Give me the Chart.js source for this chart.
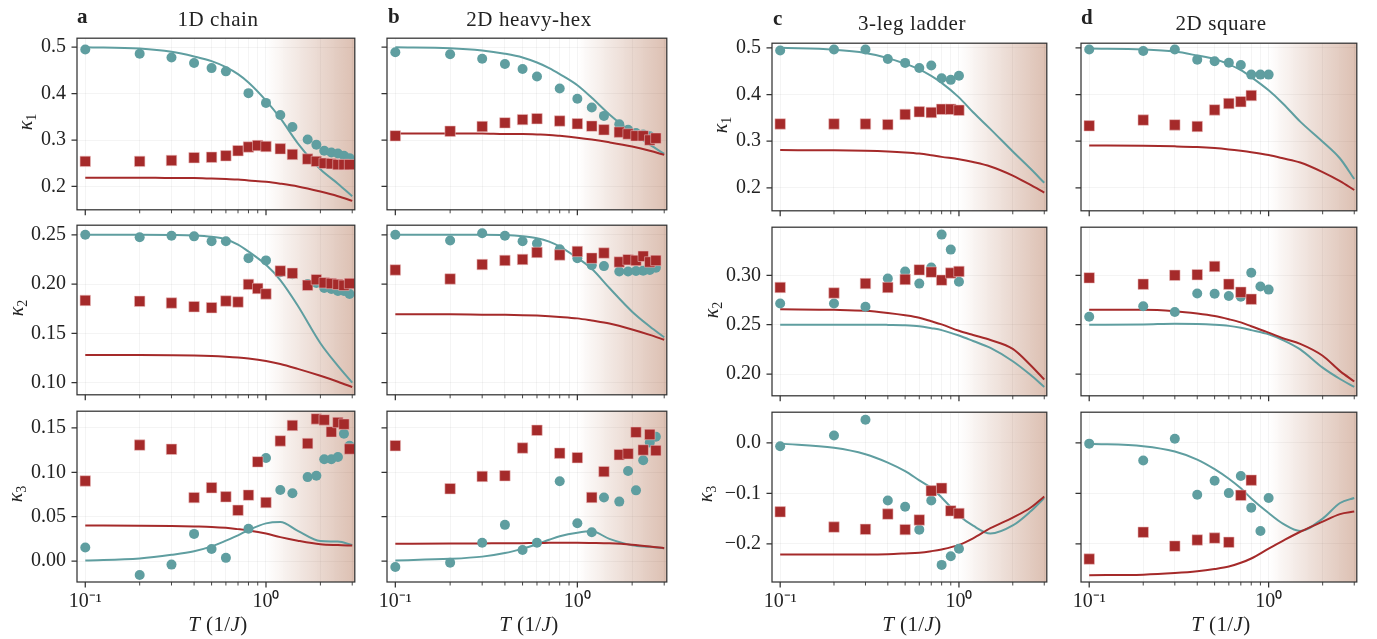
<!DOCTYPE html>
<html lang="en">
<head>
<meta charset="UTF-8">
<title>Cumulants vs temperature</title>
<style>
  body { margin: 0; background: #fff; font-family: "Liberation Serif", serif; color: #222; }
  #fig { position: relative; width: 1377px; height: 639px; overflow: hidden; }
  #fig canvas { position: absolute; }
  .lbl { position: absolute; font-size: 20px; line-height: 20px; white-space: nowrap; }
  .title { transform: translateX(-50%); font-size: 21px; letter-spacing: 0.6px; }
  .letter { font-weight: bold; font-size: 21px; }
  .ylab { transform: translate(-50%, -50%) rotate(-90deg); font-style: italic; }
  .ylab sub { font-style: normal; font-size: 14px; vertical-align: -4px; line-height: 0; }
  .xlab { transform: translate(-50%, -50%); font-size: 21px; letter-spacing: 0.4px; }
</style>
</head>
<body>
<div id="fig">
  <div class="lbl letter" style="left:77px; top:6px">a</div>
  <div class="lbl title" style="left:218px; top:9px">1D chain</div>
  <div class="lbl letter" style="left:388px; top:6px">b</div>
  <div class="lbl title" style="left:529px; top:9px">2D heavy-hex</div>
  <div class="lbl letter" style="left:773px; top:8px">c</div>
  <div class="lbl title" style="left:912px; top:13px">3-leg ladder</div>
  <div class="lbl letter" style="left:1081px; top:7px">d</div>
  <div class="lbl title" style="left:1221px; top:13px">2D square</div>

  <div class="lbl ylab" style="left:25px; top:122px">κ<sub>1</sub></div>
  <div class="lbl ylab" style="left:16px; top:308px">κ<sub>2</sub></div>
  <div class="lbl ylab" style="left:15px; top:494px">κ<sub>3</sub></div>
  <div class="lbl ylab" style="left:720px; top:125px">κ<sub>1</sub></div>
  <div class="lbl ylab" style="left:711px; top:310px">κ<sub>2</sub></div>
  <div class="lbl ylab" style="left:705px; top:494px">κ<sub>3</sub></div>

  <div class="lbl xlab" style="left:218px; top:624px"><i>T</i> (1/<i>J</i>)</div>
  <div class="lbl xlab" style="left:529px; top:624px"><i>T</i> (1/<i>J</i>)</div>
  <div class="lbl xlab" style="left:912px; top:624px"><i>T</i> (1/<i>J</i>)</div>
  <div class="lbl xlab" style="left:1221px; top:624px"><i>T</i> (1/<i>J</i>)</div>
</div>

<script src="https://cdn.jsdelivr.net/npm/chart.js"></script>
<script>
const TEAL = '#5f9ea0';
const BROWN = '#a52a2a';
const FONT = '"Liberation Serif", serif';

// temperatures of the measured points
const T_A = [0.1, 0.2, 0.3, 0.4, 0.5, 0.6, 0.7, 0.8, 0.9, 1.0, 1.2, 1.4, 1.7, 1.9, 2.1, 2.3, 2.5, 2.7, 2.9];
const T_A_TEAL = [0.1, 0.2, 0.3, 0.4, 0.5, 0.6, 0.8, 1.0, 1.2, 1.4, 1.7, 1.9, 2.1, 2.3, 2.5, 2.7, 2.9];
const T_B = [0.1, 0.2, 0.3, 0.4, 0.5, 0.6, 0.8, 1.0, 1.2, 1.4, 1.7, 1.9, 2.1, 2.3, 2.5, 2.7];
const T_C = [0.1, 0.2, 0.3, 0.4, 0.5, 0.6, 0.7, 0.8, 0.9, 1.0];
const T_D_RED = [0.1, 0.2, 0.3, 0.4, 0.5, 0.6, 0.7, 0.8];
// temperatures of the theory curves
const T_FIT = [0.1, 0.2, 0.3, 0.4, 0.5, 0.6, 0.7, 0.8, 1.0, 1.2, 1.5, 2.0, 2.5, 3.0];

const X_TICKS = [0.1, 0.2, 0.3, 0.4, 0.5, 0.6, 0.7, 0.8, 0.9, 1, 2, 3];

// a: 1D chain
const aK1Teal = [0.495, 0.486, 0.478, 0.466, 0.455, 0.448, 0.401, 0.380, 0.354, 0.328, 0.301, 0.290, 0.277, 0.273, 0.271, 0.266, 0.261];
const aK1Red = [0.254, 0.254, 0.256, 0.262, 0.263, 0.266, 0.277, 0.285, 0.288, 0.286, 0.281, 0.269, 0.259, 0.254, 0.250, 0.249, 0.247, 0.247, 0.247];
const aK1TealFit = [0.500, 0.497, 0.490, 0.480, 0.470, 0.457, 0.442, 0.424, 0.385, 0.347, 0.293, 0.237, 0.206, 0.179];
const aK1RedFit = [0.219, 0.219, 0.218, 0.218, 0.217, 0.216, 0.215, 0.213, 0.210, 0.206, 0.200, 0.189, 0.179, 0.169];

const aK2Teal = [0.250, 0.2474, 0.249, 0.2484, 0.2435, 0.2435, 0.2263, 0.224, 0.212, 0.210, 0.200, 0.201, 0.196, 0.195, 0.193, 0.193, 0.190];
const aK2Red = [0.1834, 0.1825, 0.1808, 0.177, 0.176, 0.1828, 0.1818, 0.1997, 0.1955, 0.190, 0.2133, 0.211, 0.1987, 0.2045, 0.2013, 0.2006, 0.1997, 0.1987, 0.2006];
const aK2TealFit = [0.250, 0.250, 0.2498, 0.2493, 0.248, 0.2455, 0.240, 0.233, 0.2195, 0.204, 0.178, 0.140, 0.117, 0.100];
const aK2RedFit = [0.128, 0.128, 0.1278, 0.1275, 0.127, 0.1263, 0.1255, 0.1245, 0.122, 0.119, 0.114, 0.107, 0.101, 0.0955];

const aK3Teal = [0.0153, -0.0157, -0.004, 0.0306, 0.0135, 0.0036, 0.0364, 0.1161, 0.0801, 0.0764, 0.0946, 0.0961, 0.1147, 0.1147, 0.1172, 0.1434, 0.130];
const aK3Red = [0.0903, 0.1307, 0.126, 0.0715, 0.0826, 0.0724, 0.0572, 0.0743, 0.1118, 0.0659, 0.1354, 0.1529, 0.1325, 0.1602, 0.1591, 0.1456, 0.1562, 0.1543, 0.1263];
const aK3TealFit = [0.0005, 0.003, 0.007, 0.011, 0.0165, 0.023, 0.029, 0.035, 0.0425, 0.044, 0.034, 0.0225, 0.022, 0.018];
const aK3RedFit = [0.040, 0.0398, 0.0395, 0.039, 0.0385, 0.0375, 0.036, 0.0345, 0.031, 0.027, 0.023, 0.019, 0.018, 0.0175];

// b: 2D heavy-hex
const bK1Teal = [0.489, 0.485, 0.475, 0.464, 0.453, 0.437, 0.411, 0.389, 0.370, 0.352, 0.334, 0.322, 0.315, 0.312, 0.308, 0.304];
const bK1Red = [0.309, 0.319, 0.329, 0.337, 0.344, 0.346, 0.341, 0.335, 0.330, 0.322, 0.317, 0.313, 0.309, 0.309, 0.300, 0.304];
const bK1TealFit = [0.500, 0.498, 0.493, 0.486, 0.478, 0.467, 0.455, 0.442, 0.418, 0.391, 0.355, 0.316, 0.290, 0.270];
const bK1RedFit = [0.314, 0.314, 0.314, 0.313, 0.313, 0.312, 0.311, 0.309, 0.305, 0.301, 0.295, 0.286, 0.277, 0.268];

const bK2Teal = [0.250, 0.2442, 0.2516, 0.249, 0.2435, 0.2412, 0.2354, 0.2263, 0.2192, 0.2182, 0.2127, 0.2127, 0.2133, 0.2136, 0.2143, 0.2166];
const bK2Red = [0.2143, 0.2052, 0.2198, 0.224, 0.225, 0.2321, 0.2295, 0.2331, 0.2263, 0.2315, 0.2224, 0.2247, 0.224, 0.2282, 0.2224, 0.224];
const bK2TealFit = [0.250, 0.250, 0.250, 0.2497, 0.2485, 0.2465, 0.243, 0.238, 0.2265, 0.2155, 0.196, 0.172, 0.157, 0.146];
const bK2RedFit = [0.1695, 0.1693, 0.169, 0.1688, 0.1685, 0.168, 0.1674, 0.1667, 0.1652, 0.163, 0.160, 0.154, 0.1485, 0.1435];

const bK3Teal = [-0.0066, -0.0018, 0.0207, 0.0408, 0.0124, 0.0207, 0.0899, 0.0426, 0.0324, 0.0717, 0.067, 0.1016, 0.0797, 0.1136, 0.1336, 0.1402];
const bK3Red = [0.130, 0.0815, 0.0954, 0.0961, 0.1274, 0.1474, 0.1216, 0.1165, 0.0717, 0.1008, 0.1198, 0.1209, 0.1452, 0.1252, 0.1427, 0.1245];
const bK3TealFit = [0.0007, 0.0025, 0.005, 0.009, 0.014, 0.019, 0.024, 0.028, 0.032, 0.0335, 0.025, 0.0178, 0.016, 0.0145];
const bK3RedFit = [0.0195, 0.0197, 0.0199, 0.020, 0.0202, 0.0204, 0.0205, 0.0206, 0.0206, 0.0204, 0.020, 0.0185, 0.0165, 0.0145];

// c: 3-leg ladder
const cK1Teal = [0.4945, 0.4966, 0.4966, 0.476, 0.4678, 0.4568, 0.4623, 0.435, 0.4315, 0.4404];
const cK1Red = [0.337, 0.337, 0.337, 0.3356, 0.3575, 0.363, 0.3616, 0.3685, 0.3685, 0.3664];
const cK1TealFit = [0.500, 0.496, 0.489, 0.478, 0.466, 0.454, 0.440, 0.425, 0.394, 0.362, 0.326, 0.278, 0.242, 0.211];
const cK1RedFit = [0.281, 0.2805, 0.2795, 0.278, 0.276, 0.2735, 0.270, 0.2665, 0.2615, 0.2555, 0.246, 0.2265, 0.207, 0.190];

const cK2Teal = [0.2714, 0.2714, 0.2682, 0.2968, 0.3039, 0.2916, 0.3078, 0.3412, 0.326, 0.2935];
const cK2Red = [0.2877, 0.2821, 0.2916, 0.2877, 0.2958, 0.3055, 0.3032, 0.2951, 0.3023, 0.3039];
const cK2TealFit = [0.250, 0.250, 0.250, 0.2498, 0.2495, 0.2485, 0.2465, 0.2445, 0.239, 0.2335, 0.2265, 0.213, 0.1995, 0.187];
const cK2RedFit = [0.2656, 0.265, 0.264, 0.2618, 0.2595, 0.257, 0.2535, 0.2503, 0.2438, 0.2395, 0.2345, 0.2255, 0.2095, 0.1945];

const cK3Teal = [-0.0064, 0.0147, 0.0462, -0.1141, -0.1263, -0.1718, -0.1141, -0.2417, -0.2244, -0.2096];
const cK3Red = [-0.1365, -0.1667, -0.1712, -0.141, -0.1718, -0.1526, -0.0949, -0.0897, -0.1346, -0.1397];
const cK3TealFit = [-0.0013, -0.0096, -0.0224, -0.039, -0.056, -0.074, -0.089, -0.108, -0.144, -0.164, -0.1795, -0.1635, -0.1365, -0.109];
const cK3RedFit = [-0.221, -0.221, -0.221, -0.2205, -0.219, -0.2175, -0.2145, -0.211, -0.202, -0.189, -0.169, -0.148, -0.129, -0.106];

// d: 2D square
const dK1Teal = [0.4966, 0.4932, 0.4966, 0.4748, 0.4714, 0.468, 0.4632, 0.4427, 0.4427, 0.4427];
const dK1Red = [0.333, 0.3453, 0.335, 0.3316, 0.3671, 0.3807, 0.3848, 0.3978];
const dK1TealFit = [0.4986, 0.4966, 0.492, 0.4836, 0.476, 0.4646, 0.4523, 0.4373, 0.409, 0.381, 0.342, 0.299, 0.263, 0.219];
const dK1RedFit = [0.2907, 0.2903, 0.289, 0.2875, 0.2853, 0.2825, 0.2795, 0.2765, 0.2703, 0.2635, 0.2545, 0.234, 0.2145, 0.1955];

const dK2Teal = [0.2581, 0.2687, 0.2629, 0.2816, 0.2813, 0.279, 0.2784, 0.3026, 0.2887, 0.2855];
const dK2Red = [0.2974, 0.291, 0.300, 0.3006, 0.309, 0.291, 0.2829, 0.2758];
const dK2TealFit = [0.250, 0.2502, 0.251, 0.2508, 0.250, 0.2488, 0.2468, 0.2445, 0.2403, 0.2345, 0.225, 0.2065, 0.195, 0.187];
const dK2RedFit = [0.2652, 0.2652, 0.2637, 0.2613, 0.2587, 0.2555, 0.2523, 0.2484, 0.242, 0.2363, 0.2305, 0.2185, 0.203, 0.1925];

const dK3Teal = [-0.0013, -0.0346, 0.0083, -0.1026, -0.075, -0.0994, -0.0654, -0.1282, -0.1744, -0.109];
const dK3Red = [-0.2301, -0.1769, -0.2045, -0.1923, -0.1885, -0.1968, -0.1038, -0.0737];
const dK3TealFit = [-0.0013, -0.0064, -0.017, -0.033, -0.052, -0.071, -0.090, -0.110, -0.139, -0.160, -0.1745, -0.150, -0.119, -0.109];
const dK3RedFit = [-0.262, -0.261, -0.258, -0.2545, -0.250, -0.245, -0.2375, -0.229, -0.2095, -0.194, -0.176, -0.156, -0.141, -0.136];

// y axis ticks per row
const K1_TICKS = [0.2, 0.3, 0.4, 0.5];
const K2_TICKS_AB = [0.10, 0.15, 0.20, 0.25];
const K2_TICKS_CD = [0.20, 0.25, 0.30];
const K3_TICKS_AB = [0.00, 0.05, 0.10, 0.15];
const K3_TICKS_CD = [-0.2, -0.1, 0.0];

const COLS = {
  a: { L: 77, W: 283, rows: [[33, 179], [220, 177], [406, 176]], labels: true },
  b: { L: 387, W: 285, rows: [[33, 179], [220, 177], [406, 176]], labels: false },
  c: { L: 772, W: 280, rows: [[38, 175], [222, 176], [407, 175]], labels: true },
  d: { L: 1081, W: 281, rows: [[38, 175], [222, 176], [407, 175]], labels: false }
};

const panels = [
  { col: 'a', row: 0, y: [0.1497, 0.5194], ticks: K1_TICKS, dec: 1, tTeal: T_A_TEAL, teal: aK1Teal, tRed: T_A, red: aK1Red, tealFit: aK1TealFit, redFit: aK1RedFit },
  { col: 'a', row: 1, y: [0.0877, 0.2597], ticks: K2_TICKS_AB, dec: 2, tTeal: T_A_TEAL, teal: aK2Teal, tRed: T_A, red: aK2Red, tealFit: aK2TealFit, redFit: aK2RedFit },
  { col: 'a', row: 2, y: [-0.0236, 0.1689], ticks: K3_TICKS_AB, dec: 2, tTeal: T_A_TEAL, teal: aK3Teal, tRed: T_A, red: aK3Red, tealFit: aK3TealFit, redFit: aK3RedFit },
  { col: 'b', row: 0, y: [0.1497, 0.5194], ticks: K1_TICKS, dec: 1, tTeal: T_B, teal: bK1Teal, tRed: T_B, red: bK1Red, tealFit: bK1TealFit, redFit: bK1RedFit },
  { col: 'b', row: 1, y: [0.0877, 0.2597], ticks: K2_TICKS_AB, dec: 2, tTeal: T_B, teal: bK2Teal, tRed: T_B, red: bK2Red, tealFit: bK2TealFit, redFit: bK2RedFit },
  { col: 'b', row: 2, y: [-0.0236, 0.1689], ticks: K3_TICKS_AB, dec: 2, tTeal: T_B, teal: bK3Teal, tRed: T_B, red: bK3Red, tealFit: bK3TealFit, redFit: bK3RedFit },
  { col: 'c', row: 0, y: [0.151, 0.510], ticks: K1_TICKS, dec: 1, tTeal: T_C, teal: cK1Teal, tRed: T_C, red: cK1Red, tealFit: cK1TealFit, redFit: cK1RedFit },
  { col: 'c', row: 1, y: [0.178, 0.3487], ticks: K2_TICKS_CD, dec: 2, tTeal: T_C, teal: cK2Teal, tRed: T_C, red: cK2Red, tealFit: cK2TealFit, redFit: cK2RedFit },
  { col: 'c', row: 2, y: [-0.2756, 0.061], ticks: K3_TICKS_CD, dec: 1, tTeal: T_C, teal: cK3Teal, tRed: T_C, red: cK3Red, tealFit: cK3TealFit, redFit: cK3RedFit },
  { col: 'd', row: 0, y: [0.151, 0.510], ticks: K1_TICKS, dec: 1, tTeal: T_C, teal: dK1Teal, tRed: T_D_RED, red: dK1Red, tealFit: dK1TealFit, redFit: dK1RedFit },
  { col: 'd', row: 1, y: [0.178, 0.3487], ticks: K2_TICKS_CD, dec: 2, tTeal: T_C, teal: dK2Teal, tRed: T_D_RED, red: dK2Red, tealFit: dK2TealFit, redFit: dK2RedFit },
  { col: 'd', row: 2, y: [-0.2756, 0.061], ticks: K3_TICKS_CD, dec: 1, tTeal: T_C, teal: dK3Teal, tRed: T_D_RED, red: dK3Red, tealFit: dK3TealFit, redFit: dK3RedFit }
];

function pts(xs, ys) {
  return xs.map((x, i) => ({ x: x, y: ys[i] }));
}

function fmt(v, dec) {
  const s = Math.abs(v).toFixed(dec);
  return (v < -1e-9 ? '\u2212' : '') + s;
}

// shaded high-T region, box frame and outward ticks
const framePlugin = {
  id: 'frame',
  beforeDatasetsDraw(chart) {
    const { ctx, chartArea: a, scales: { x } } = chart;
    const x1 = x.getPixelForValue(1);
    const g = ctx.createLinearGradient(x1, 0, a.right, 0);
    g.addColorStop(0, 'rgba(160,82,45,0)');
    g.addColorStop(1, 'rgba(160,82,45,0.37)');
    ctx.save();
    ctx.fillStyle = g;
    ctx.fillRect(x1, a.top, a.right - x1, a.bottom - a.top);
    ctx.restore();
  },
  afterDraw(chart) {
    const { ctx, chartArea: a, scales: { x, y } } = chart;
    ctx.save();
    ctx.strokeStyle = '#333';
    ctx.lineWidth = 1.25;
    ctx.strokeRect(a.left, a.top, a.right - a.left, a.bottom - a.top);
    ctx.beginPath();
    x.ticks.filter(t => t.major).forEach(t => {
      const px = x.getPixelForValue(t.value);
      ctx.moveTo(px, a.bottom); ctx.lineTo(px, a.bottom + 5.5);
    });
    y.ticks.forEach(t => {
      const py = y.getPixelForValue(t.value);
      ctx.moveTo(a.left, py); ctx.lineTo(a.left - 5.5, py);
    });
    ctx.stroke();
    ctx.lineWidth = 0.9;
    ctx.beginPath();
    x.ticks.filter(t => !t.major).forEach(t => {
      const px = x.getPixelForValue(t.value);
      ctx.moveTo(px, a.bottom); ctx.lineTo(px, a.bottom + 3.5);
    });
    ctx.stroke();
    ctx.restore();
  }
};

const fig = document.getElementById('fig');
const YW = 70, PADR = 3, PADT = 3;

panels.forEach(p => {
  const c = COLS[p.col];
  const [top, H] = c.rows[p.row];
  const bottomRow = p.row === 2;
  const xh = bottomRow ? 40 : 6;
  const w = YW + c.W + PADR, h = PADT + H + xh;
  const cv = document.createElement('canvas');
  cv.width = w; cv.height = h;
  cv.style.left = (c.L - YW) + 'px';
  cv.style.top = (top - PADT) + 'px';
  cv.style.width = w + 'px';
  cv.style.height = h + 'px';
  fig.insertBefore(cv, fig.firstChild);

  new Chart(cv, {
    type: 'scatter',
    data: {
      datasets: [
        { data: pts(p.tRed, p.red), pointStyle: 'rect', pointRadius: 7.4, pointBackgroundColor: BROWN,
          pointBorderColor: 'rgba(235,190,190,0.7)', pointBorderWidth: 0.8, order: 0, clip: 0 },
        { data: pts(p.tTeal, p.teal), pointStyle: 'circle', pointRadius: 5, pointBackgroundColor: TEAL,
          pointBorderWidth: 0, order: 1, clip: 0 },
        { data: pts(T_FIT, p.redFit), showLine: true, borderColor: BROWN, borderWidth: 2, pointRadius: 0,
          cubicInterpolationMode: 'monotone', order: 2, clip: 0 },
        { data: pts(T_FIT, p.tealFit), showLine: true, borderColor: TEAL, borderWidth: 2, pointRadius: 0,
          cubicInterpolationMode: 'monotone', order: 3, clip: 0 }
      ]
    },
    options: {
      responsive: false,
      animation: false,
      devicePixelRatio: 1,
      layout: { padding: { left: 0, right: PADR, top: PADT, bottom: 0 } },
      plugins: { legend: { display: false }, tooltip: { enabled: false } },
      scales: {
        x: {
          type: 'logarithmic', min: 0.09, max: 3.1,
          afterBuildTicks: s => { s.ticks = X_TICKS.map(v => ({ value: v, major: v === 0.1 || v === 1 })); },
          afterFit: s => { s.height = xh; s.paddingLeft = 0; s.paddingRight = 0; },
          ticks: {
            display: bottomRow, autoSkip: false, maxRotation: 0, padding: 8, color: '#222',
            font: { family: FONT, size: 20 },
            callback: v => v === 0.1 ? '10\u207B\u00B9' : (v === 1 ? '10\u2070' : '')
          },
          grid: { color: 'rgba(0,0,0,0.045)', lineWidth: 1, drawTicks: false },
          border: { display: false }
        },
        y: {
          min: p.y[0], max: p.y[1],
          afterBuildTicks: s => { s.ticks = p.ticks.map(v => ({ value: v })); },
          afterFit: s => { s.width = YW; s.paddingTop = 0; s.paddingBottom = 0; },
          ticks: {
            display: c.labels, padding: 11, color: '#222',
            font: { family: FONT, size: 20 },
            callback: v => fmt(v, p.dec)
          },
          grid: { color: 'rgba(0,0,0,0.045)', lineWidth: 1, drawTicks: false },
          border: { display: false }
        }
      }
    },
    plugins: [framePlugin]
  });
});
</script>
</body>
</html>
